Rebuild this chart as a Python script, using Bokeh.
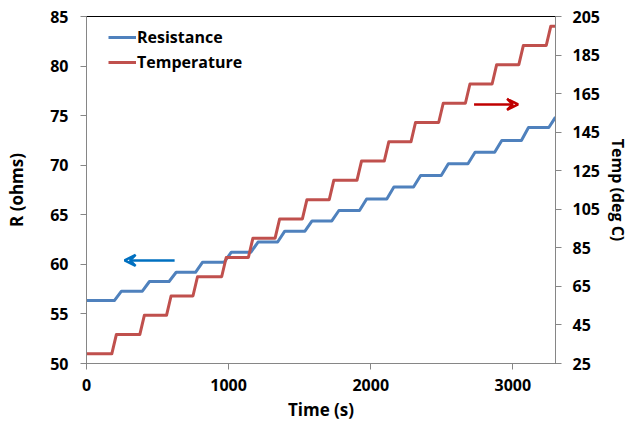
from bokeh.plotting import figure
from bokeh.models import Range1d, LinearAxis, FixedTicker, Arrow, VeeHead
from bokeh.embed import file_html
from bokeh.resources import INLINE

# ---- data ----
x_ticks = [0, 1000, 2000, 3000]
r_ticks = [50, 55, 60, 65, 70, 75, 80, 85]
t_ticks = [25, 45, 65, 85, 105, 125, 145, 165, 185, 205]

t_start = 0
t_end = 3300
# times (s) at which each temperature step occurs
step_times = [190, 387, 575, 761, 963, 1151, 1339, 1531, 1720, 1915,
              2107, 2295, 2490, 2678, 2866, 3054, 3247]
# temperature plateaus (deg C)
temp_levels = [30, 40, 50, 60, 70, 80, 90, 100, 110, 120,
               130, 140, 150, 160, 170, 180, 190, 200]
# resistance plateaus (ohms)
res_levels = [56.35, 57.3, 58.27, 59.2, 60.22, 61.23, 62.25, 63.35, 64.38,
              65.43, 66.6, 67.8, 68.96, 70.14, 71.3, 72.5, 73.8, 74.85]
# transition windows relative to step time (s)
temp_rise = (-12, 20)
res_rise = (6, 56)

# annotation arrows (data coords)
blue_arrow = dict(x0=620, x1=268, y=60.4)       # left axis units
red_arrow = dict(x0=2727, x1=3037, y=159.4)     # right axis units


def stairs(levels, times, rise, t0, t1):
    xs, ys = [t0], [levels[0]]
    for i, t in enumerate(times):
        a, b = t + rise[0], min(t + rise[1], t1)
        xs += [a, b]
        ys += [levels[i], levels[i + 1]]
    xs.append(t1)
    ys.append(levels[-1])
    return xs, ys


FONT = "Open Sans"

p = figure(frame_width=469, frame_height=347, output_backend="svg",
           toolbar_location=None, x_range=Range1d(0, 3300),
           y_range=Range1d(50, 85),
           min_border_left=86, min_border_top=16, min_border_right=70,
           min_border_bottom=56)
p.extra_y_ranges = {"temp": Range1d(25, 205)}
p.xgrid.visible = False
p.ygrid.visible = False
p.outline_line_color = "black"
p.outline_line_width = 1
p.background_fill_color = "white"
p.border_fill_color = "white"

rx, ry = stairs(res_levels, step_times, res_rise, t_start, t_end)
tx, ty = stairs(temp_levels, step_times, temp_rise, t_start, t_end)

p.line(rx, ry, line_color="#4F81BD", line_width=3, line_join="round",
       legend_label="Resistance")
p.line(tx, ty, line_color="#C0504D", line_width=3, line_join="round",
       y_range_name="temp", legend_label="Temperature")

p.add_layout(Arrow(x_start=blue_arrow["x0"], x_end=blue_arrow["x1"],
                   y_start=blue_arrow["y"], y_end=blue_arrow["y"],
                   line_color="#0070C0", line_width=2.5,
                   end=VeeHead(size=11, line_color="#0070C0", line_width=2.5,
                               fill_color="#0070C0", fill_alpha=0)))
p.add_layout(Arrow(x_start=red_arrow["x0"], x_end=red_arrow["x1"],
                   y_start=red_arrow["y"], y_end=red_arrow["y"],
                   y_range_name="temp",
                   line_color="#C00000", line_width=2.5,
                   end=VeeHead(size=11, line_color="#C00000", line_width=2.5,
                               fill_color="#C00000", fill_alpha=0)))

right = LinearAxis(y_range_name="temp", axis_label="Temp (deg C)")
p.add_layout(right, "right")


def style(ax, ticks):
    ax.ticker = FixedTicker(ticks=ticks)
    ax.major_label_text_font = FONT
    ax.major_label_text_font_style = "bold"
    ax.major_label_text_font_size = "16px"
    ax.major_label_text_color = "black"
    ax.axis_label_text_font = FONT
    ax.axis_label_text_font_style = "bold"
    ax.axis_label_text_font_size = "17px"
    ax.axis_label_text_color = "black"
    ax.major_tick_out = 6
    ax.major_tick_in = 0
    ax.minor_tick_out = 0
    ax.minor_tick_in = 0
    ax.axis_line_color = "#868686"
    ax.major_tick_line_color = "#868686"


style(p.xaxis[0], x_ticks)
p.xaxis[0].axis_label = "Time (s)"
p.xaxis[0].major_label_standoff = 9
p.xaxis[0].axis_label_standoff = 4
style(p.yaxis[0], r_ticks)
p.yaxis[0].axis_label = "R (ohms)"
p.yaxis[0].major_label_standoff = 12
p.yaxis[0].axis_label_standoff = 19
style(right, t_ticks)
right.major_label_standoff = 11
right.axis_label_standoff = 4
right.axis_label_text_font_size = "16px"

lg = p.legend[0]
lg.location = (22, 290)
lg.border_line_color = None
lg.background_fill_alpha = 0
lg.margin = 0
lg.padding = 0
lg.spacing = 3
lg.glyph_width = 28
lg.glyph_height = 20
lg.label_height = 20
lg.label_standoff = 1
lg.label_text_font = FONT
lg.label_text_font_style = "bold"
lg.label_text_font_size = "16px"
lg.label_text_color = "black"

open("out.html", "w").write(file_html(p, INLINE))
